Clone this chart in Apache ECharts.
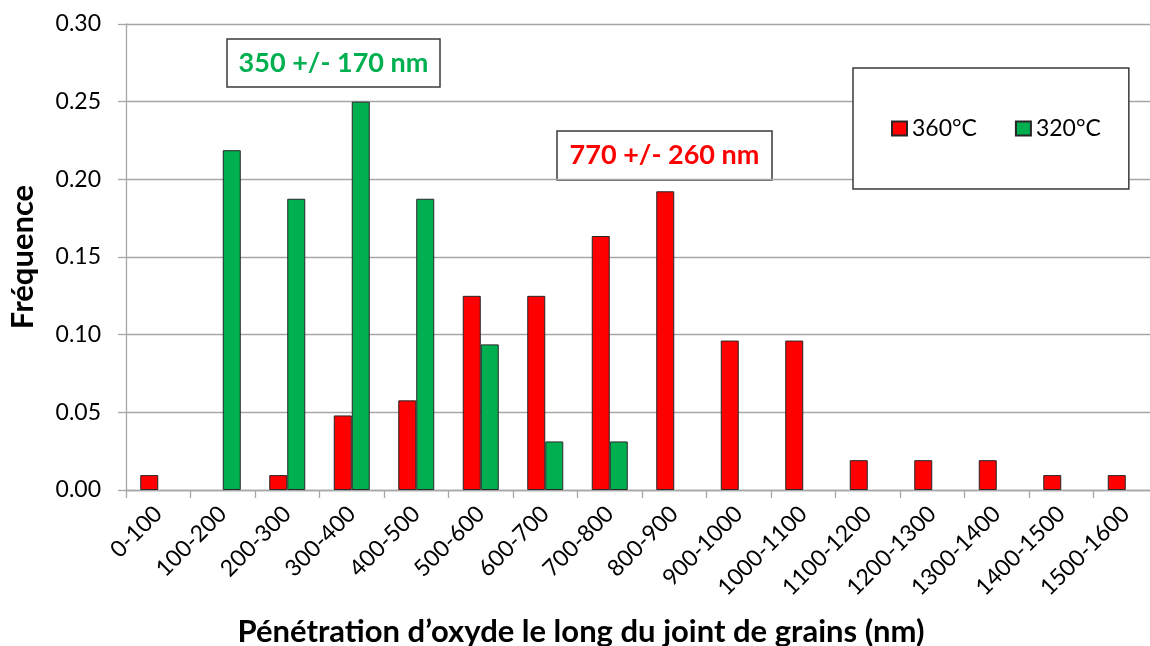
<!DOCTYPE html>
<html>
<head>
<meta charset="utf-8">
<script src="https://cdn.jsdelivr.net/npm/echarts@6/dist/echarts.min.js"></script>
<style>
  html, body { margin: 0; padding: 0; background: #fff; }
  #chart { width: 1150px; height: 646px; }
</style>
</head>
<body>
<div id="chart"></div>
<script>
// Depth classes of oxide penetration along grain boundaries (nm)
const categories = ['0-100', '100-200', '200-300', '300-400', '400-500', '500-600',
  '600-700', '700-800', '800-900', '900-1000', '1000-1100', '1100-1200',
  '1200-1300', '1300-1400', '1400-1500', '1500-1600'];

// Frequencies at 360°C
const freq360 = [0.0096, 0, 0.0096, 0.048, 0.0577, 0.125, 0.125, 0.1635, 0.1923,
  0.0962, 0.0962, 0.0192, 0.0192, 0.0192, 0.0096, 0.0096];

// Frequencies at 320°C
const freq320 = [0, 0.21875, 0.1875, 0.25, 0.1875, 0.09375, 0.03125, 0.03125,
  0, 0, 0, 0, 0, 0, 0, 0];

const seriesNames = ['360°C', '320°C'];
const meanLabel320 = '350 +/- 170 nm';
const meanLabel360 = '770 +/- 260 nm';
const yTicks = { min: 0, max: 0.30, step: 0.05 };

const FONT = 'Lato, "Open Sans", sans-serif';
const RED = '#FF0000';
const GREEN = '#00B050';
const GRID_GRAY = '#A6A6A6';

// empty classes get no bar at all (no outline on the baseline)
const asBars = arr => arr.map(v => (v === 0 ? '-' : v));

const chart = echarts.init(document.getElementById('chart'), null, { renderer: 'canvas' });

function boxLabel(x, y, w, h, text, color) {
  return {
    type: 'group',
    x: x, y: y,
    z: 50,
    children: [
      { type: 'rect', shape: { x: 0, y: 0, width: w, height: h },
        style: { fill: '#fff', stroke: '#3a3a3a', lineWidth: 1.5 } },
      { type: 'text', x: w / 2, y: h / 2,
        style: { text: text, fill: color, font: 'bold 27px ' + FONT,
                 textAlign: 'center', textVerticalAlign: 'middle' } }
    ]
  };
}

chart.setOption({
  animation: false,
  backgroundColor: '#fff',
  textStyle: { fontFamily: FONT },
  grid: { left: 126, top: 24, width: 1032, height: 466,
          containLabel: false, outerBoundsMode: 'none' },
  legend: {
    data: seriesNames,
    left: 853, top: 68,
    orient: 'horizontal',
    padding: [49, 28, 49, 38],
    itemWidth: 15, itemHeight: 14, itemGap: 38,
    icon: 'rect',
    backgroundColor: '#fff',
    borderColor: '#3a3a3a', borderWidth: 1.5, borderRadius: 0,
    textStyle: { fontSize: 23, color: '#000', fontFamily: FONT },
    z: 60
  },
  xAxis: {
    type: 'category',
    data: categories,
    name: 'Pénétration d’oxyde le long du joint de grains (nm)',
    nameLocation: 'middle',
    nameGap: 126,
    nameTextStyle: { fontSize: 31, fontWeight: 'bold', color: '#000',
                     fontFamily: FONT, padding: [0, 122, 0, 0] },
    axisLine: { lineStyle: { color: GRID_GRAY, width: 1.3 } },
    axisTick: { show: true, length: 8, lineStyle: { color: GRID_GRAY, width: 1.3 } },
    axisLabel: { rotate: 45, fontSize: 23, color: '#000', margin: 20, interval: 0 },
    splitLine: { show: false }
  },
  yAxis: {
    type: 'value',
    min: yTicks.min, max: yTicks.max, interval: yTicks.step,
    name: 'Fréquence',
    nameLocation: 'middle',
    nameGap: 88,
    nameTextStyle: { fontSize: 31, fontWeight: 'bold', color: '#000', fontFamily: FONT },
    axisLine: { show: true, lineStyle: { color: GRID_GRAY, width: 1.3 } },
    axisTick: { show: true, length: 8, lineStyle: { color: GRID_GRAY, width: 1.3 } },
    axisLabel: { fontSize: 23, color: '#000', margin: 25,
                 formatter: v => v.toFixed(2) },
    splitLine: { show: true, lineStyle: { color: GRID_GRAY, width: 1.3 } }
  },
  series: [
    { name: seriesNames[0], type: 'bar', data: asBars(freq360),
      barWidth: 18, barGap: '0%',
      itemStyle: { color: RED, borderColor: '#262626', borderWidth: 1 } },
    { name: seriesNames[1], type: 'bar', data: asBars(freq320),
      barWidth: 18, barGap: '0%',
      itemStyle: { color: GREEN, borderColor: '#262626', borderWidth: 1 } }
  ],
  graphic: [
    boxLabel(227, 39, 213, 48, meanLabel320, GREEN),
    boxLabel(557, 131, 215, 49, meanLabel360, RED)
  ]
});
</script>
</body>
</html>
